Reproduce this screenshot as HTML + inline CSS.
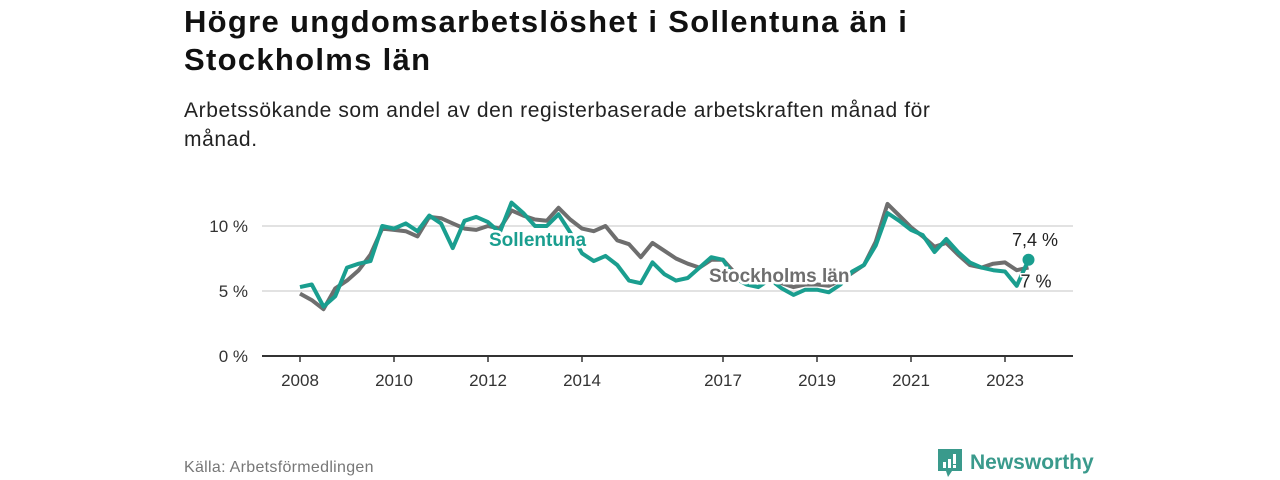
<!DOCTYPE html>
<html><head><meta charset="utf-8">
<style>
body{margin:0;width:1280px;height:480px;background:#fff;font-family:"Liberation Sans","DejaVu Sans",sans-serif;overflow:hidden;position:relative}
h1{position:absolute;left:184px;top:3px;margin:0;font-size:31px;letter-spacing:1.3px;line-height:38px;font-weight:bold;color:#111;width:800px}
.sub{position:absolute;left:184px;top:96px;margin:0;font-size:21px;letter-spacing:0.6px;line-height:29px;color:#222;width:790px}
.src{position:absolute;left:184px;top:459px;font-size:16px;letter-spacing:0.3px;color:#777}
.logo{position:absolute;left:938px;top:449px;display:flex;align-items:center}
.logo span{font-size:21px;font-weight:bold;color:#3a9a8c;margin-left:8px}
svg{position:absolute;left:0;top:0}
</style></head><body>
<h1>Högre ungdomsarbetslöshet i Sollentuna än i Stockholms län</h1>
<p class="sub">Arbetssökande som andel av den registerbaserade arbetskraften månad för månad.</p>
<svg id="chart" width="1280" height="480"></svg>
<div class="src">Källa: Arbetsförmedlingen</div>
<div class="logo">
<svg width="24" height="28" style="position:static" viewBox="0 0 24 28"><path d="M0 0H24V22H14L10 28L8 22H0Z" fill="#3a9a8c"/><rect x="5" y="13" width="3" height="6" fill="#fff"/><rect x="10" y="10" width="3" height="9" fill="#fff"/><rect x="15" y="5" width="3" height="10" fill="#fff"/><rect x="15" y="16" width="3" height="3" fill="#fff"/></svg>
<span>Newsworthy</span></div>
<script>
const startYear = 2008;
const xTickLabels = [2008, 2010, 2012, 2014, 2017, 2019, 2021, 2023];
const yTickValues = [0, 5, 10];
const sollentuna = [5.3,5.5,3.8,4.6, 6.8,7.1,7.3,10.0, 9.8,10.2,9.6,10.8, 10.2,8.3,10.4,10.7, 10.3,9.5,11.8,11.0, 10.0,10.0,10.9,9.5, 7.9,7.3,7.7,7.0, 5.8,5.6,7.2,6.3, 5.8,6.0,6.8,7.6, 7.4,6.0,5.5,5.3, 5.9,5.2,4.7,5.1, 5.1,4.9,5.5,6.5, 7.0,8.5,11.0,10.4, 9.7,9.3,8.0,9.0, 8.0,7.2,6.8,6.6, 6.5,5.4,7.4];
const stockholm = [4.8,4.3,3.6,5.2, 5.8,6.6,7.8,9.8, 9.7,9.6,9.2,10.7, 10.6,10.2,9.8,9.7, 10.0,9.8,11.2,10.8, 10.5,10.4,11.4,10.5, 9.8,9.6,10.0,8.9, 8.6,7.6,8.7,8.1, 7.5,7.1,6.8,7.4, 7.4,6.4,6.0,5.9, 5.8,5.6,5.3,5.5, 5.5,5.4,5.8,6.4, 7.0,8.8,11.7,10.8, 9.9,9.2,8.4,8.7, 7.8,7.0,6.8,7.1, 7.2,6.6,6.8];
const endLabels = ["7,4 %", "7 %"];

const svg = document.getElementById('chart');
const NS = 'http://www.w3.org/2000/svg';
const x = t => 300 + 47 * (t - startYear);
const y = v => 356 - 13 * v;
function mk(tag, attrs, parent) { const e = document.createElementNS(NS, tag); for (const k in attrs) e.setAttribute(k, attrs[k]); (parent || svg).appendChild(e); return e; }

yTickValues.forEach(v => {
  if (v > 0) { const g = mk('line', {x1:262, x2:1073, y1:y(v), y2:y(v), stroke:'#d8d8d8', 'stroke-width':1.5});
    
     }
  const t = mk('text', {x:248, y:y(v) + 6, 'text-anchor':'end', 'font-size':17, fill:'#333'});
  t.textContent = v + ' %';
  
  
});
const ax = mk('line', {x1:262, x2:1073, y1:356, y2:356, stroke:'#333', 'stroke-width':2});


xTickLabels.forEach(yr => {
  const tk = mk('line', {x1:x(yr), x2:x(yr), y1:356, y2:362, stroke:'#333', 'stroke-width':1.5});
  
  
  const t = mk('text', {x:x(yr), y:386, 'text-anchor':'middle', 'font-size':17, fill:'#333'});
  t.textContent = yr;
  
  
});
function pts(arr) { return arr.map((v, i) => x(startYear + i * 0.25) + ',' + y(v)).join(' '); }
const ls = mk('polyline', {points:pts(stockholm), fill:'none', stroke:'#6e6e6e', 'stroke-width':4, 'stroke-linejoin':'round'});


const ll = mk('polyline', {points:pts(sollentuna), fill:'none', stroke:'#1a9e8f', 'stroke-width':4, 'stroke-linejoin':'round'});


const lastI = sollentuna.length - 1;
const dot = mk('circle', {cx:x(startYear + lastI * 0.25), cy:y(sollentuna[lastI]), r:6, fill:'#1a9e8f'});


const e1 = mk('text', {x:1035, y:y(sollentuna[lastI]) - 14, 'text-anchor':'middle', 'font-size':18, fill:'#222'});
e1.textContent = endLabels[0];


const e2 = mk('text', {x:1036, y:y(stockholm[lastI]) + 20, 'text-anchor':'middle', 'font-size':18, fill:'#222', stroke:'#fff', 'stroke-width':3, 'paint-order':'stroke'});
e2.textContent = endLabels[1];


const n1 = mk('text', {x:489, y:246, 'font-size':19, 'font-weight':'bold', fill:'#1a9e8f', stroke:'#fff', 'stroke-width':5, 'paint-order':'stroke'});
n1.textContent = 'Sollentuna';


const n2 = mk('text', {x:709, y:282, 'font-size':19, 'font-weight':'bold', fill:'#6e6e6e', stroke:'#fff', 'stroke-width':5, 'paint-order':'stroke'});
n2.textContent = 'Stockholms län';


</script>
</body></html>
